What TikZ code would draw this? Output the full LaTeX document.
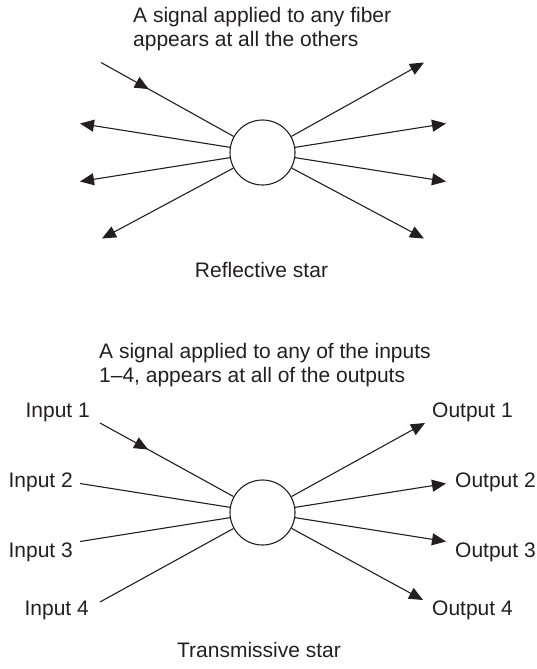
\documentclass[tikz,border=0pt]{standalone}
\usepackage{fontspec}
\setmainfont{Liberation Sans}
\usetikzlibrary{arrows.meta,decorations.markings,calc}
\definecolor{ink}{RGB}{35,31,32}
\begin{document}
\begin{tikzpicture}[x=1pt,y=-1pt,
  fiber/.style={line width=1.1pt, draw=ink},
  outarrow/.style={fiber, -{Triangle[length=14pt,width=12pt]}},
  midarrow/.style={fiber, postaction={decorate}, decoration={markings,
      mark=at position 0.36 with {\arrow[ink]{Triangle[length=14pt,width=12pt]}}}},
  starbox/.style={circle, draw=ink, line width=1.1pt, minimum size=65pt, inner sep=0pt},
  lbl/.style={font=\fontsize{21}{24}\selectfont, text=ink, inner sep=0pt},
]
\useasboundingbox (0,0) rectangle (536,669);

% ---------- reflective star ----------
\node[starbox] (rs) at (262.5,152.5) {};
\coordinate (rin) at (101,62.5);
\coordinate (rl2) at (80,123.5);
\coordinate (rl3) at (80,181.5);
\coordinate (rl4) at (102,238.5);
\coordinate (ro1) at (424,62.5);
\coordinate (ro2) at (446,123.5);
\coordinate (ro3) at (446,181.5);
\coordinate (ro4) at (424,238.5);

\draw[midarrow] (rin) -- (rs);
\foreach \p in {rl2,rl3,rl4,ro1,ro2,ro3,ro4}
  \draw[outarrow] (rs) -- (\p);

% the base anchor of a two-line node sits on its last line
\node[lbl, anchor=base west, align=left] (rnote) at (133,47)
  {A signal applied to any fiber\\appears at all the others};
\node[lbl, anchor=base] (rcap) at (261.5,277) {Reflective star};

% ---------- transmissive star ----------
\node[starbox] (ts) at (262.5,512.5) {};
\coordinate (ti1) at (100,423);
\coordinate (ti2) at (80,483.5);
\coordinate (ti3) at (80,541.5);
\coordinate (ti4) at (100,602);
\coordinate (to1) at (425,423);
\coordinate (to2) at (446,483.5);
\coordinate (to3) at (446,541.5);
\coordinate (to4) at (423,600);

\draw[midarrow] (ti1) -- (ts);
\foreach \p in {ti2,ti3,ti4}
  \draw[fiber] (\p) -- (ts);
\foreach \p in {to1,to2,to3,to4}
  \draw[outarrow] (ts) -- (\p);

\node[lbl, anchor=base east] (lin1) at (90,417) {Input 1};
\node[lbl, anchor=base east] (lin2) at (73,487) {Input 2};
\node[lbl, anchor=base east] (lin3) at (73,557) {Input 3};
\node[lbl, anchor=base east] (lin4) at (89,615) {Input 4};
\node[lbl, anchor=base west] (lout1) at (432,417) {Output 1};
\node[lbl, anchor=base west] (lout2) at (455,487) {Output 2};
\node[lbl, anchor=base west] (lout3) at (455,557) {Output 3};
\node[lbl, anchor=base west] (lout4) at (432,615) {Output 4};

\node[lbl, anchor=base west, align=left] (tnote) at (99,382)
  {A signal applied to any of the inputs\\1--4, appears at all of the outputs};
\node[lbl, anchor=base] (tcap) at (259,657) {Transmissive star};
\end{tikzpicture}
\end{document}
